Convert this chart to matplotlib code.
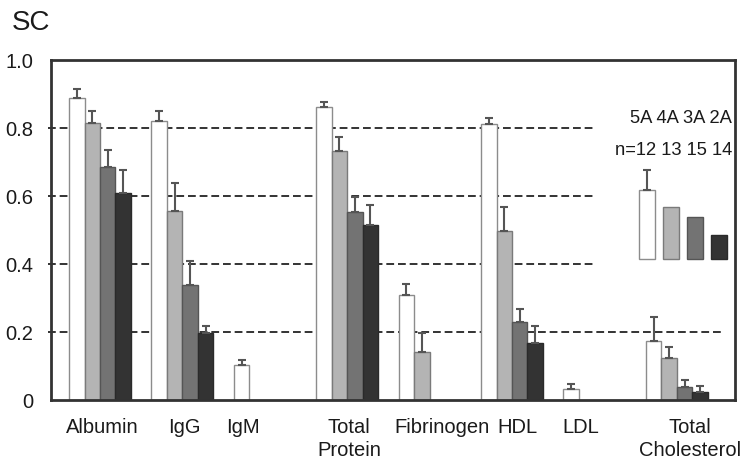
import matplotlib
matplotlib.use("Agg")
import matplotlib.pyplot as plt
import numpy as np

plt.rcParams["font.family"] = ["Liberation Sans", "DejaVu Sans"]

CATEGORIES = ["Albumin", "IgG", "IgM", "Total\nProtein", "Fibrinogen", "HDL", "LDL",
              "Total\nCholesterol"]
SERIES = ["5A", "4A", "3A", "2A"]
N_LABELS = ["n=12", "13", "15", "14"]

# mean values per series (5A, 4A, 3A, 2A) across categories
MEAN_5A = [0.889, 0.821, 0.102, 0.863, 0.309, 0.811, 0.032, 0.173]
MEAN_4A = [0.815, 0.557, 0.0, 0.732, 0.141, 0.497, 0.0, 0.123]
MEAN_3A = [0.687, 0.338, 0.0, 0.552, 0.0, 0.230, 0.0, 0.038]
MEAN_2A = [0.609, 0.197, 0.0, 0.516, 0.0, 0.168, 0.0, 0.024]
# upper error (SEM)
ERR_5A = [0.026, 0.029, 0.015, 0.015, 0.032, 0.018, 0.015, 0.071]
ERR_4A = [0.035, 0.081, 0.0, 0.041, 0.056, 0.072, 0.0, 0.032]
ERR_3A = [0.050, 0.072, 0.0, 0.044, 0.0, 0.037, 0.0, 0.020]
ERR_2A = [0.068, 0.022, 0.0, 0.058, 0.0, 0.051, 0.0, 0.018]

# key drawn inside the plot (bar heights of the key graphic)
KEY_BASE = 0.416
KEY_TOPS = [0.619, 0.568, 0.537, 0.486]
KEY_ERR = 0.059

GRID_LEVELS = [0.2, 0.4, 0.6, 0.8]
GRID_ENDS = [7.56, 5.98, 5.98, 5.98]

FACES = ["white", "#b4b4b4", "#737373", "#333333"]
EDGES = ["#8c8c8c", "#7a7a7a", "#555555", "#2a2a2a"]
LABEL_SHIFT = [0.03, 0.03, -0.27, 0.02, 0.15, 0.07, -0.17, 0.16]

means = [MEAN_5A, MEAN_4A, MEAN_3A, MEAN_2A]
errs = [ERR_5A, ERR_4A, ERR_3A, ERR_2A]

fig = plt.figure(figsize=(7.43, 4.59), dpi=100)
ax = fig.add_axes([0.0686, 0.1285, 0.9206, 0.7405])

x = np.arange(len(CATEGORIES))
w = 0.188
for k in range(4):
    pos = x + (k - 1.5) * w
    vals = np.array(means[k])
    keep = vals > 0
    ax.bar(pos[keep], vals[keep], w, color=FACES[k], edgecolor=EDGES[k], lw=1.0, zorder=2)
    e = np.array(errs[k])
    ax.errorbar(pos[keep], vals[keep], yerr=[np.zeros(keep.sum()), e[keep]], fmt="none",
                ecolor="#555555", elinewidth=1.5, capsize=3, capthick=1.5, zorder=3)

for lvl, end in zip(GRID_LEVELS, GRID_ENDS):
    ax.hlines(lvl, -0.635, end, colors="#333333", linestyles=(0, (4, 2)), lw=1.4,
              zorder=1, clip_on=False)

# key
kx = 6.64 + np.arange(4) * 0.29
for k in range(4):
    ax.bar(kx[k], KEY_TOPS[k] - KEY_BASE, 0.2, bottom=KEY_BASE, color=FACES[k],
           edgecolor=EDGES[k], lw=1.0, zorder=2)
ax.errorbar([kx[0]], [KEY_TOPS[0]], yerr=[[0], [KEY_ERR]], fmt="none", ecolor="#555555",
            elinewidth=1.5, capsize=3, capthick=1.5, zorder=3)
ax.text(7.67, 0.828, " ".join(SERIES), ha="right", va="center", fontsize=13.2, color="#1a1a1a")
ax.text(7.67, 0.735, " ".join(N_LABELS), ha="right", va="center", fontsize=13.2, color="#1a1a1a")

ax.set_xlim(-0.595, 7.706)
ax.set_ylim(0, 1.0)
ax.set_yticks([0, 0.2, 0.4, 0.6, 0.8, 1.0], ["0", "0.2", "0.4", "0.6", "0.8", "1.0"])
ax.set_xticks(x + np.array(LABEL_SHIFT), CATEGORIES)
ax.tick_params(axis="both", length=0, labelsize=14.5, colors="#1a1a1a")
ax.tick_params(axis="y", pad=13)
ax.tick_params(axis="x", pad=13)
for t in ax.get_xticklabels():
    t.set_linespacing(1.25)
for s in ax.spines.values():
    s.set_color("#333333")
    s.set_linewidth(2)

fig.text(0.016, 0.935, "SC", fontsize=20, color="#1a1a1a", ha="left", va="baseline")

fig.savefig("out.png", dpi=100)
